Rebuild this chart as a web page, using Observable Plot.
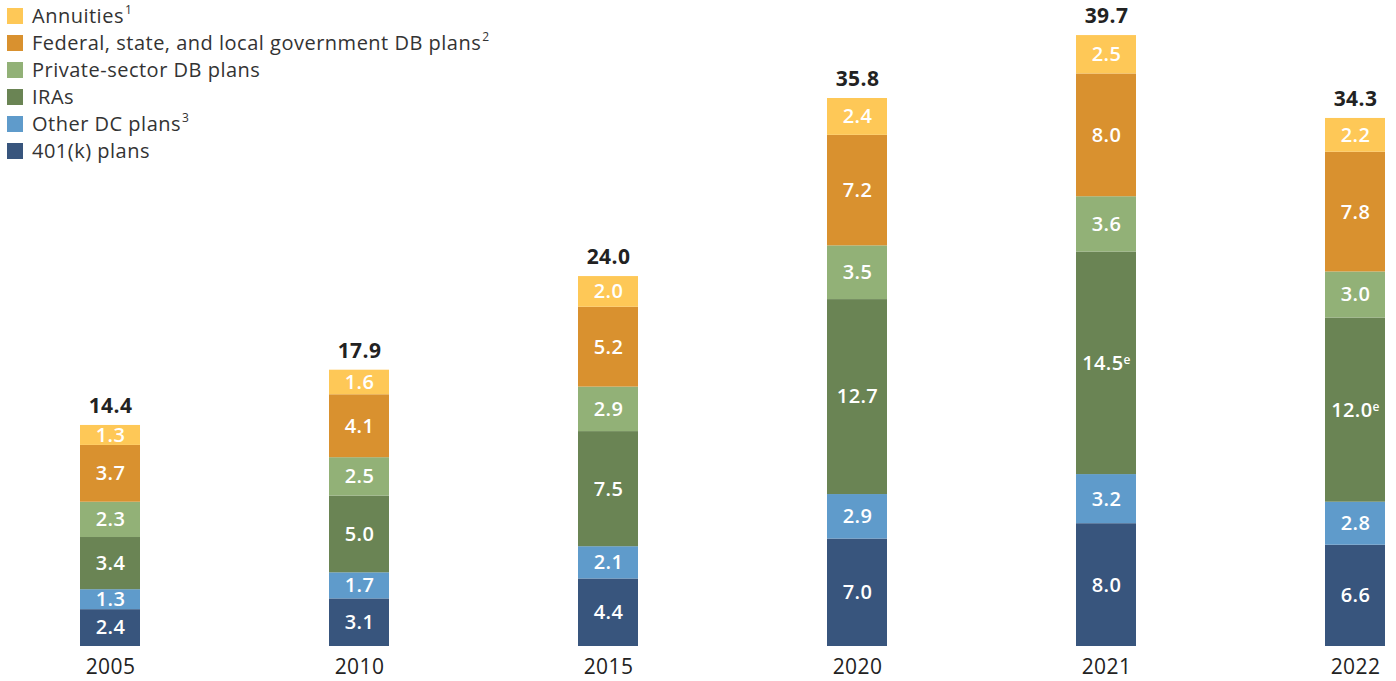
<!DOCTYPE html>
<html><head><meta charset="utf-8">
<script src="https://cdn.jsdelivr.net/npm/d3@7"></script>
<script src="https://cdn.jsdelivr.net/npm/@observablehq/plot@0.6"></script>
<style>
body{margin:0;background:#fff;font-family:"Open Sans",sans-serif;}
#wrap{position:relative;width:1396px;height:681px;overflow:hidden;}
#legend{position:absolute;left:7px;top:2px;}
.row{display:flex;align-items:center;height:27px;font-size:20px;letter-spacing:0.5px;color:#333;white-space:nowrap;}
.sw{width:16px;height:16px;margin-right:9px;flex:none;}
.row sup{font-size:0.6em;line-height:0;position:relative;top:-0.15em;margin-left:1px;letter-spacing:0;}
</style></head>
<body><div id="wrap"><div id="chart"></div><div id="legend"></div></div>
<script>
const years = ["2005","2010","2015","2020","2021","2022"];
const seriesNames = ["401(k) plans","Other DC plans","IRAs","Private-sector DB plans","Federal, state, and local government DB plans","Annuities"];
const legendSup = {"Annuities":"1","Federal, state, and local government DB plans":"2","Other DC plans":"3"};
const colors = ["#38557d","#5f9bcb","#6a8454","#92b177","#d9912f","#fec857"];
const k401 = [2.4,3.1,4.4,7.0,8.0,6.6];
const otherDC = [1.3,1.7,2.1,2.9,3.2,2.8];
const iras = [3.4,5.0,7.5,12.7,14.5,12.0];
const privateDB = [2.3,2.5,2.9,3.5,3.6,3.0];
const govDB = [3.7,4.1,5.2,7.2,8.0,7.8];
const annuities = [1.3,1.6,2.0,2.4,2.5,2.2];
const totals = [14.4,17.9,24.0,35.8,39.7,34.3];
const irasEstimated = [false,false,false,false,true,true];

const seriesValues = [k401,otherDC,iras,privateDB,govDB,annuities];
const data = [];
seriesNames.forEach((s,si)=>{
  years.forEach((y,yi)=>{
    const v = seriesValues[si][yi];
    const est = si===2 && irasEstimated[yi];
    data.push({year:y, series:s, value:v, label:v.toFixed(1)+(est?"e":"")});
  });
});
const totalData = years.map((y,yi)=>({year:y, total:totals[yi], top:d3.sum(seriesValues,a=>a[yi])}));

const chart = Plot.plot({
  width:1396, height:681,
  marginLeft:79, marginRight:10, marginTop:32, marginBottom:35,
  style:{fontFamily:"'Open Sans', sans-serif", background:"#fff", letterSpacing:"0.4px"},
  x:{domain:years, paddingInner:0.76, paddingOuter:0, label:null},
  y:{domain:[0,40], axis:null},
  color:{domain:seriesNames, range:colors},
  marks:[
    Plot.barY(data,{x:"year", y:"value", fill:"series", order:seriesNames}),
    Plot.text(data, Plot.stackY({x:"year", y:"value", z:"series", order:seriesNames, text:"label", fill:"#fff", fontSize:20, fontWeight:600})),
    Plot.text(totalData,{x:"year", y:"top", text:d=>d.total.toFixed(1), dy:-19, fill:"#222", fontSize:21, fontWeight:700}),
    Plot.axisX({tickSize:0, tickPadding:13, fontSize:21, color:"#222", label:null})
  ]
});
document.getElementById("chart").appendChild(chart);

d3.select(chart).selectAll("text").each(function(){
  const t = this.textContent;
  if (/^[0-9.]+e$/.test(t)) {
    this.textContent = t.slice(0,-1);
    d3.select(this).append("tspan").attr("dy","-0.45em").attr("font-size","0.6em").text("e");
  }
});

const legend = document.getElementById("legend");
[...seriesNames].reverse().forEach(s=>{
  const i = seriesNames.indexOf(s);
  const row = document.createElement("div"); row.className="row";
  const sw = document.createElement("span"); sw.className="sw"; sw.style.background=colors[i];
  const lab = document.createElement("span"); lab.textContent = s;
  if (legendSup[s]) { const sp=document.createElement("sup"); sp.textContent=legendSup[s]; lab.appendChild(sp); }
  row.appendChild(sw); row.appendChild(lab); legend.appendChild(row);
});
</script></body></html>
